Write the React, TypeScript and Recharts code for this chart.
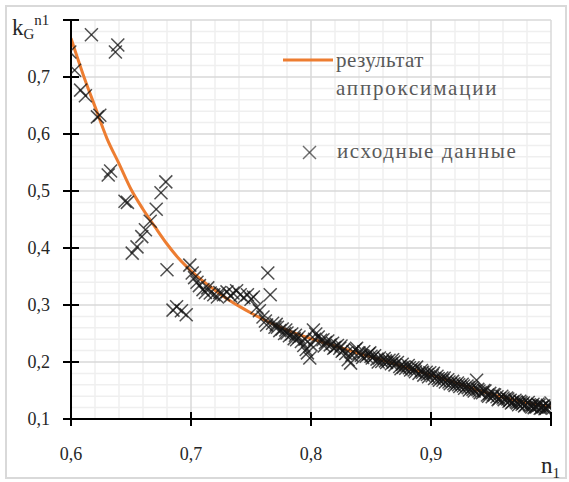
import React from "react";
import {
  ComposedChart,
  XAxis,
  YAxis,
  Line,
  Scatter,
  ReferenceLine,
} from "recharts";

const FONT = "Liberation Serif";

const X_TICKS = [0.6, 0.7, 0.8, 0.9, 1.0];
const Y_TICKS = [0.1, 0.2, 0.3, 0.4, 0.5, 0.6, 0.7, 0.8];
const X_MINOR = [0.62, 0.64, 0.66, 0.68, 0.72, 0.74, 0.76, 0.78, 0.82, 0.84, 0.86, 0.88, 0.92, 0.94, 0.96, 0.98];
const Y_MINOR = [
  0.12, 0.14, 0.16, 0.18, 0.22, 0.24, 0.26, 0.28, 0.32, 0.34, 0.36, 0.38, 0.42, 0.44, 0.46, 0.48,
  0.52, 0.54, 0.56, 0.58, 0.62, 0.64, 0.66, 0.68, 0.72, 0.74, 0.76, 0.78,
];

// approximation curve
const FIT_X = [0.6, 0.61, 0.62, 0.63, 0.64, 0.65, 0.66, 0.67, 0.68, 0.69, 0.7, 0.71, 0.72, 0.73, 0.74, 0.75, 0.76, 0.77, 0.78, 0.79, 0.8, 0.82, 0.84, 0.86, 0.88, 0.9, 0.92, 0.94, 0.96, 0.98, 1.0];
const FIT_Y = [0.768, 0.705, 0.648, 0.592, 0.548, 0.503, 0.468, 0.437, 0.407, 0.381, 0.36, 0.342, 0.326, 0.311, 0.298, 0.286, 0.275, 0.265, 0.256, 0.248, 0.241, 0.228, 0.215, 0.203, 0.19, 0.177, 0.164, 0.15, 0.138, 0.128, 0.121];

// source data (n1, kG)
const RAW: [number, number][] = [
  [0.599, 0.744], [0.603, 0.712], [0.608, 0.677], [0.612, 0.667], [0.617, 0.774], [0.622, 0.63],
  [0.624, 0.633], [0.631, 0.528], [0.633, 0.535], [0.637, 0.744], [0.639, 0.756], [0.645, 0.482],
  [0.647, 0.48], [0.651, 0.391], [0.655, 0.402], [0.659, 0.42], [0.662, 0.432], [0.666, 0.447],
  [0.671, 0.468], [0.675, 0.497], [0.679, 0.516], [0.68, 0.362], [0.685, 0.291], [0.688, 0.297],
  [0.692, 0.29], [0.696, 0.283],
  [0.699, 0.37], [0.701, 0.356], [0.703, 0.348], [0.705, 0.34], [0.707, 0.334], [0.71, 0.327],
  [0.712, 0.322], [0.714, 0.33], [0.716, 0.321], [0.719, 0.318], [0.722, 0.314], [0.724, 0.322],
  [0.727, 0.318], [0.73, 0.323], [0.733, 0.316], [0.735, 0.321], [0.738, 0.325], [0.741, 0.318],
  [0.744, 0.313], [0.747, 0.318], [0.75, 0.31], [0.752, 0.314], [0.755, 0.296], [0.757, 0.29],
  [0.76, 0.279], [0.762, 0.272], [0.764, 0.356], [0.766, 0.318], [0.763, 0.265], [0.768, 0.268],
  [0.77, 0.261],
  [0.772, 0.261], [0.774, 0.255], [0.776, 0.258], [0.778, 0.25], [0.78, 0.251], [0.782, 0.246],
  [0.784, 0.249], [0.786, 0.241], [0.788, 0.239], [0.79, 0.244], [0.792, 0.236], [0.794, 0.229],
  [0.796, 0.222], [0.797, 0.216], [0.799, 0.207], [0.8, 0.23], [0.802, 0.256], [0.804, 0.249],
  [0.806, 0.244], [0.808, 0.238], [0.81, 0.239], [0.812, 0.234], [0.814, 0.237], [0.816, 0.23],
  [0.818, 0.233], [0.82, 0.226], [0.822, 0.229], [0.824, 0.224], [0.826, 0.219], [0.827, 0.221],
  [0.829, 0.215], [0.831, 0.204], [0.833, 0.198], [0.835, 0.218], [0.837, 0.222], [0.838, 0.224],
  [0.84, 0.216], [0.842, 0.212], [0.844, 0.218], [0.846, 0.21], [0.848, 0.214], [0.849, 0.216],
  [0.851, 0.207], [0.853, 0.211], [0.855, 0.205], [0.857, 0.207], [0.859, 0.201], [0.861, 0.206],
  [0.863, 0.199], [0.865, 0.203], [0.867, 0.197], [0.868, 0.204], [0.87, 0.195], [0.872, 0.199],
  [0.874, 0.192], [0.876, 0.196], [0.877, 0.191], [0.879, 0.189], [0.881, 0.194], [0.883, 0.186],
  [0.885, 0.19], [0.887, 0.183], [0.888, 0.191], [0.89, 0.18], [0.892, 0.185], [0.894, 0.177],
  [0.896, 0.182], [0.898, 0.174], [0.899, 0.181], [0.901, 0.176], [0.903, 0.171], [0.905, 0.175],
  [0.907, 0.168], [0.909, 0.172], [0.91, 0.168], [0.912, 0.165], [0.914, 0.169], [0.916, 0.162],
  [0.918, 0.166], [0.92, 0.159], [0.922, 0.163], [0.924, 0.157], [0.926, 0.161], [0.928, 0.154],
  [0.93, 0.158], [0.932, 0.151], [0.934, 0.155], [0.936, 0.149], [0.938, 0.168], [0.939, 0.152],
  [0.941, 0.146], [0.943, 0.146], [0.945, 0.149], [0.947, 0.142], [0.949, 0.145], [0.951, 0.139],
  [0.953, 0.142], [0.955, 0.139], [0.957, 0.136], [0.959, 0.14], [0.961, 0.134], [0.963, 0.137],
  [0.965, 0.131], [0.966, 0.133], [0.968, 0.13], [0.97, 0.133], [0.972, 0.128], [0.974, 0.131],
  [0.976, 0.126], [0.977, 0.128], [0.979, 0.125], [0.981, 0.129], [0.983, 0.123], [0.985, 0.126],
  [0.987, 0.122], [0.988, 0.121], [0.99, 0.124], [0.992, 0.12], [0.994, 0.123], [0.996, 0.119],
  [0.998, 0.122], [0.999, 0.121], [1.0, 0.128],
  // extra points in the dense band
  [0.771, 0.266], [0.779, 0.256], [0.787, 0.247], [0.795, 0.24], [0.803, 0.24], [0.811, 0.228],
  [0.819, 0.224], [0.825, 0.228], [0.834, 0.212], [0.843, 0.208], [0.85, 0.21], [0.856, 0.2],
  [0.862, 0.202], [0.869, 0.2], [0.875, 0.188], [0.882, 0.19], [0.886, 0.186], [0.893, 0.182],
  [0.897, 0.178], [0.902, 0.18], [0.906, 0.171], [0.911, 0.172], [0.915, 0.165], [0.919, 0.162],
  [0.923, 0.16], [0.927, 0.158], [0.931, 0.155], [0.935, 0.152], [0.94, 0.149], [0.944, 0.15],
  [0.948, 0.14], [0.952, 0.143], [0.956, 0.134], [0.96, 0.137], [0.964, 0.135], [0.967, 0.128],
  [0.971, 0.13], [0.975, 0.129], [0.978, 0.123], [0.982, 0.125], [0.986, 0.12], [0.989, 0.126],
  [0.993, 0.122], [0.997, 0.124], [0.995, 0.118], [0.991, 0.119], [0.984, 0.121], [0.973, 0.125],
];

const fitData = FIT_X.map((x, i) => ({ x, y: FIT_Y[i] }));
const rawData = RAW.map(([x, y]) => ({ x, y }));

const fmt = (v: number) => v.toFixed(1).replace(".", ",");

const txt = { fontFamily: FONT };

function Cross(props: any) {
  const { cx, cy } = props;
  if (cx == null || cy == null) return null;
  const s = 6.5;
  return (
    <g stroke="rgba(20,20,20,0.75)" strokeWidth={1.5}>
      <line x1={cx - s} y1={cy - s} x2={cx + s} y2={cy + s} />
      <line x1={cx - s} y1={cy + s} x2={cx + s} y2={cy - s} />
    </g>
  );
}

function YTick(props: any) {
  const { x, y, payload } = props;
  const v = payload.value;
  return (
    <g>
      <line x1={x - 8} x2={x + 8} y1={y} y2={y} stroke="#000" strokeWidth={2} />
      {v < 0.75 && (
        <text x={x - 21} y={y} dy="0.35em" textAnchor="end" style={txt} fontSize={18} fill="#262626">
          {fmt(v)}
        </text>
      )}
    </g>
  );
}

function XTick(props: any) {
  const { x, y, payload } = props;
  const v = payload.value;
  return (
    <g>
      <line x1={x} x2={x} y1={y - 7} y2={y + 7} stroke="#000" strokeWidth={2} />
      {v < 0.95 && (
        <text x={x} y={y + 41} textAnchor="middle" style={txt} fontSize={18} fill="#262626">
          {fmt(v)}
        </text>
      )}
    </g>
  );
}

export default function App() {
  return (
    <div style={{ position: "absolute", left: 0, top: 0, width: 569, height: 482, background: "#fff" }}>
      <div
        style={{
          position: "absolute",
          left: 5,
          top: 5,
          width: 558,
          height: 470,
          border: "2px solid #d9d9d9",
        }}
      />
      <ComposedChart
        width={569}
        height={482}
        margin={{ top: 20, right: 18, left: 11, bottom: 23 }}
        style={{ position: "absolute", left: 0, top: 0 }}
      >
        {X_MINOR.map((v) => (
          <ReferenceLine key={"xm" + v} x={v} stroke="#efefef" strokeWidth={1.5} />
        ))}
        {Y_MINOR.map((v) => (
          <ReferenceLine key={"ym" + v} y={v} stroke="#efefef" strokeWidth={1.5} />
        ))}
        {X_TICKS.map((v) => (
          <ReferenceLine key={"xM" + v} x={v} stroke="#d9d9d9" strokeWidth={1.5} />
        ))}
        {Y_TICKS.map((v) => (
          <ReferenceLine key={"yM" + v} y={v} stroke="#d9d9d9" strokeWidth={1.5} />
        ))}
        <XAxis
          type="number"
          dataKey="x"
          domain={[0.6, 1.0]}
          ticks={X_TICKS}
          interval={0}
          height={40}
          tickSize={0}
          tickMargin={0}
          tickLine={false}
          axisLine={{ stroke: "#000", strokeWidth: 2 }}
          tick={<XTick />}
          allowDataOverflow
        />
        <YAxis
          type="number"
          dataKey="y"
          domain={[0.1, 0.8]}
          ticks={Y_TICKS}
          interval={0}
          width={60}
          tickSize={0}
          tickMargin={0}
          tickLine={false}
          axisLine={{ stroke: "#000", strokeWidth: 2 }}
          tick={<YTick />}
          allowDataOverflow
        />
        <Line
          data={fitData}
          dataKey="y"
          type="monotone"
          stroke="#ED7D31"
          strokeWidth={3}
          dot={false}
          isAnimationActive={false}
        />
        <Scatter data={rawData} dataKey="y" shape={<Cross />} isAnimationActive={false} />
      </ComposedChart>
      <svg
        width={569}
        height={482}
        style={{ position: "absolute", left: 0, top: 0, pointerEvents: "none" }}
      >
        <text x={12} y={35} style={txt} fontSize={23} fill="#262626">
          k
          <tspan fontSize={15} dy={4}>G</tspan>
          <tspan fontSize={15} dy={-14}>n1</tspan>
        </text>
        <text x={541} y={473} style={txt} fontSize={23} fill="#262626">
          n<tspan fontSize={15} dy={5}>1</tspan>
        </text>
        <line x1={283} x2={333} y1={60} y2={60} stroke="#ED7D31" strokeWidth={3} />
        <text x={336} y={67} style={txt} fontSize={21} letterSpacing={0.4} fill="#595959">
          результат
        </text>
        <text x={336} y={95} style={txt} fontSize={21} letterSpacing={1.8} fill="#595959">
          аппроксимации
        </text>
        <g stroke="rgba(50,50,50,0.7)" strokeWidth={1.4}>
          <line x1={303} y1={146} x2={316} y2={159} />
          <line x1={303} y1={159} x2={316} y2={146} />
        </g>
        <text x={337} y={158} style={txt} fontSize={21} letterSpacing={1.6} fill="#595959">
          исходные данные
        </text>
      </svg>
    </div>
  );
}
